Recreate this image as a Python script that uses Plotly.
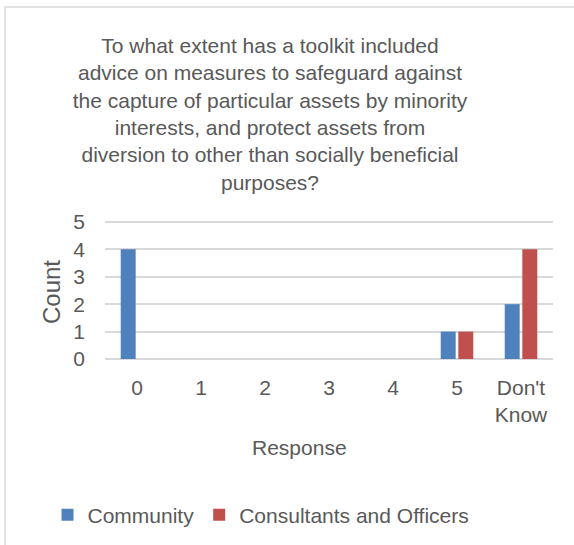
import plotly.graph_objects as go

# Survey responses per rating category
categories = ["0", "1", "2", "3", "4", "5", "Don't<br>Know"]
community = [4, 0, 0, 0, 0, 1, 2]
consultants = [0, 0, 0, 0, 0, 1, 4]

title_lines = [
    "To what extent has a toolkit included",
    "advice on measures to safeguard against",
    "the capture of particular assets by minority",
    "interests, and protect assets from",
    "diversion to other than socially beneficial",
    "purposes?",
]

W, H = 574, 545
L, R, T, B = 105, 21, 220, 186
PW, PH = W - L - R, H - T - B
TXT = "#595959"
FONT = "Liberation Sans, Arial, sans-serif"


def px_x(x):
    return (x - L) / PW


def px_y(y):
    return 1 - (y - T) / PH


fig = go.Figure()
fig.add_trace(go.Bar(x=categories, y=community, name="Community",
                     marker=dict(color="#4F81BD", line_width=0)))
fig.add_trace(go.Bar(x=categories, y=consultants, name="Consultants and Officers",
                     marker=dict(color="#C0504D", line_width=0)))

fig.update_layout(
    width=W, height=H,
    margin=dict(l=L, r=R, t=T, b=B, autoexpand=False),
    paper_bgcolor="white", plot_bgcolor="white",
    font=dict(family=FONT, size=21, color=TXT),
    barmode="group", bargap=0.45, bargroupgap=0.15,
    title=dict(text="<br>".join(title_lines), xref="container", yref="container",
               x=270 / W, xanchor="center", y=1 - 53 / H, yanchor="top",
               font=dict(size=21, color=TXT)),
    showlegend=True,
    legend=dict(orientation="h", x=px_x(261), xanchor="center",
                y=px_y(515), yanchor="middle", font=dict(size=21, color=TXT),
                itemwidth=30, traceorder="normal"),
    xaxis=dict(showgrid=False, showline=False, zeroline=False, ticks="",
               tickfont=dict(size=21, color=TXT), ticklabelstandoff=14),
    yaxis=dict(range=[0, 5.07], dtick=1, showgrid=True, gridcolor="#D9D9D9",
               gridwidth=1.5, zeroline=True, zerolinecolor="#D9D9D9",
               zerolinewidth=1.5, showline=False, ticks="",
               tickfont=dict(size=21, color=TXT), ticklabelstandoff=19),
)

# Axis titles
fig.add_annotation(text="Count", xref="paper", yref="paper", x=px_x(51), y=px_y(292),
                   xanchor="center", yanchor="middle", textangle=-90, showarrow=False,
                   font=dict(size=24, color=TXT))
fig.add_annotation(text="Response", xref="paper", yref="paper", x=px_x(299), y=px_y(447),
                   xanchor="center", yanchor="middle", showarrow=False,
                   font=dict(size=21, color=TXT))

# Chart-area border
fig.add_shape(type="rect", xref="paper", yref="paper",
              x0=px_x(5), y0=px_y(7), x1=px_x(W + 20), y1=px_y(H + 20),
              line=dict(color="#D9D9D9", width=1.5), layer="below")

fig.write_html("out.html")
